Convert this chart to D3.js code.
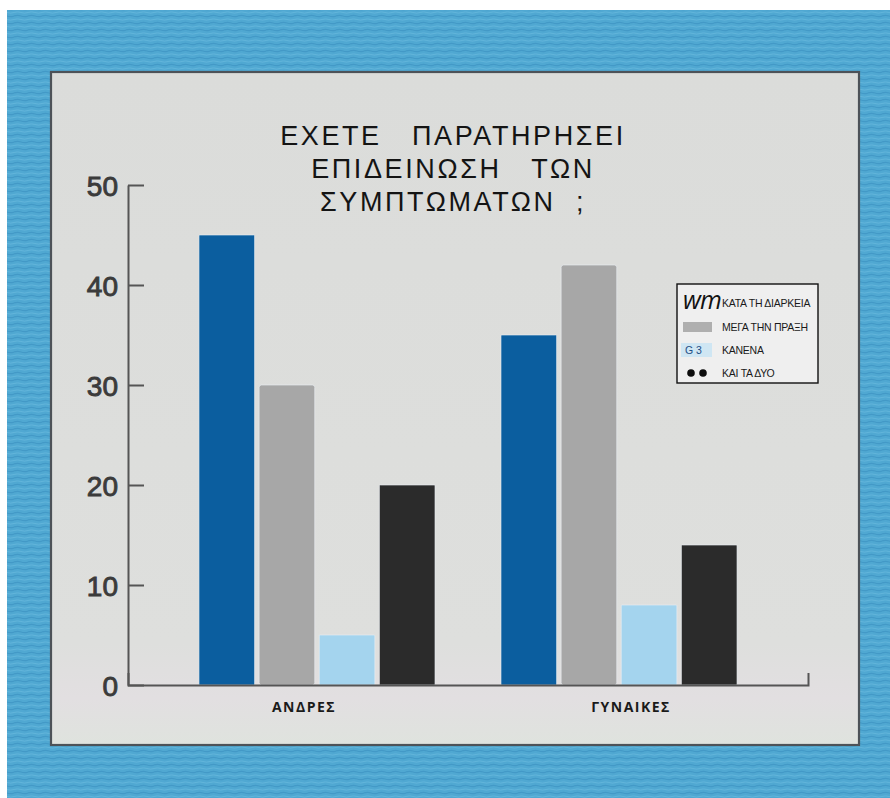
<!DOCTYPE html>
<html>
<head>
<meta charset="utf-8">
<script src="https://cdn.jsdelivr.net/npm/d3@7"></script>
<style>
  html, body { margin: 0; padding: 0; background: #fff; }
  svg { display: block; }
  text { white-space: pre; }
</style>
</head>
<body>
<script>
// Survey answers (percent) by group
const categories = ["ΑΝΔΡΕΣ", "ΓΥΝΑΙΚΕΣ"];
const seriesKeys = ["during", "after", "none", "both"];
const seriesLabels = ["ΚΑΤΑ ΤΗ ΔΙΑΡΚΕΙΑ", "ΜΕΓΑ ΤΗΝ ΠΡΑΞΗ", "ΚΑΝΕΝΑ", "ΚΑΙ ΤΑ ΔΥΟ"];
const duringValues = [45, 35];
const afterValues = [30, 42];
const noneValues = [5, 8];
const bothValues = [20, 14];
const yTicks = [0, 10, 20, 30, 40, 50];
const titleLines = ["ΕΧΕΤΕ   ΠΑΡΑΤΗΡΗΣΕΙ", "ΕΠΙΔΕΙΝΩΣΗ   ΤΩΝ", "ΣΥΜΠΤΩΜΑΤΩΝ  ;"];

const rows = categories.map((c, i) => ({
  category: c,
  during: duringValues[i],
  after: afterValues[i],
  none: noneValues[i],
  both: bothValues[i]
}));

const colors = {
  during: "#0b5e9f",
  after: "#a7a7a7",
  none: "#a4d4ee",
  both: "#2b2b2b"
};

const W = 890, H = 798;
const svg = d3.select("body").append("svg").attr("width", W).attr("height", H);
const defs = svg.append("defs");

// textured blue frame
const pat = defs.append("pattern")
  .attr("id", "weave").attr("patternUnits", "userSpaceOnUse")
  .attr("width", 14).attr("height", 7);
pat.append("rect").attr("width", 14).attr("height", 7).attr("fill", "#50a8d2");
pat.append("path").attr("d", "M0,2 Q3.5,0.8 7,2 T14,2").attr("stroke", "#3d93c2").attr("stroke-width", 1.2).attr("fill", "none").attr("opacity", 0.7);
pat.append("path").attr("d", "M0,5.5 Q3.5,4.3 7,5.5 T14,5.5").attr("stroke", "#6cbde0").attr("stroke-width", 1).attr("fill", "none").attr("opacity", 0.6);

const panelGrad = defs.append("linearGradient").attr("id", "panelGrad")
  .attr("x1", 0).attr("y1", 0).attr("x2", 0).attr("y2", 1);
panelGrad.append("stop").attr("offset", "0%").attr("stop-color", "#dbdcda");
panelGrad.append("stop").attr("offset", "85%").attr("stop-color", "#dedfdd");
panelGrad.append("stop").attr("offset", "93%").attr("stop-color", "#e2dfe1");
panelGrad.append("stop").attr("offset", "100%").attr("stop-color", "#dfe3de");

svg.append("rect").attr("x", 7).attr("y", 10).attr("width", W - 7).attr("height", H - 10).attr("fill", "url(#weave)");

// light panel
svg.append("rect").attr("x", 51).attr("y", 72).attr("width", 808).attr("height", 673)
  .attr("fill", "url(#panelGrad)").attr("stroke", "#4d5258").attr("stroke-width", 2.2);

// scales
const y = d3.scaleLinear().domain([0, 50]).range([685, 185]);
const x0 = d3.scaleBand().domain(categories).range([128, 808])
  .paddingInner(0.2185).paddingOuter(0.235);
const x1 = d3.scaleBand().domain(seriesKeys).range([0, x0.bandwidth()]).paddingInner(0.075);

// title
const title = svg.append("text")
  .attr("x", 453).attr("y", 145)
  .attr("text-anchor", "middle")
  .attr("font-family", "'Liberation Sans', Arial, sans-serif")
  .attr("font-size", 27).attr("letter-spacing", 2.6)
  .attr("fill", "#141414");
titleLines.forEach((t, i) => {
  title.append("tspan").attr("x", 453).attr("dy", i === 0 ? 0 : 33).text(t);
});

// bars
const groups = svg.append("g").selectAll("g").data(rows).join("g")
  .attr("transform", d => `translate(${x0(d.category)},0)`);
groups.selectAll("rect")
  .data(d => seriesKeys.map(k => ({ key: k, value: d[k] })))
  .join("rect")
  .attr("x", d => x1(d.key))
  .attr("y", d => y(d.value))
  .attr("width", x1.bandwidth())
  .attr("height", d => y(0) - y(d.value))
  .attr("rx", d => d.key === "after" ? 2.5 : 0.8)
  .attr("fill", d => colors[d.key])
  .attr("stroke", "#e9eef2").attr("stroke-width", 0.8).attr("stroke-opacity", 0.8);

// y axis with inward ticks
const yAxis = svg.append("g").attr("transform", "translate(128,0)")
  .call(d3.axisLeft(y).tickValues(yTicks).tickSizeInner(-16).tickSizeOuter(0).tickPadding(10));
yAxis.select(".domain").attr("stroke", "#555").attr("stroke-width", 2);
yAxis.selectAll(".tick line").attr("stroke", "#555").attr("stroke-width", 2);
yAxis.selectAll(".tick text")
  .attr("font-family", "'Liberation Sans', Arial, sans-serif")
  .attr("font-size", 28).attr("fill", "#3b3b3b")
  .attr("stroke", "#3b3b3b").attr("stroke-width", 0.9)
  .attr("dy", "0.36em");

// x axis baseline with end tick
const xAxis = svg.append("g").attr("transform", `translate(0,${y(0)})`)
  .call(d3.axisBottom(x0).tickSize(0).tickSizeOuter(-12).tickFormat(""));
xAxis.select(".domain").attr("stroke", "#555").attr("stroke-width", 2);

// category labels
const labelShift = { "ΑΝΔΡΕΣ": -13, "ΓΥΝΑΙΚΕΣ": 12 };
svg.append("g").selectAll("text").data(categories).join("text")
  .attr("x", d => x0(d) + x0.bandwidth() / 2 + labelShift[d])
  .attr("y", 712)
  .attr("text-anchor", "middle")
  .attr("font-family", "'Open Sans', sans-serif")
  .attr("font-weight", "bold").attr("font-size", 14).attr("letter-spacing", 1.5)
  .attr("fill", "#1a1a1a")
  .text(d => d);

// legend
const lg = svg.append("g").attr("transform", "translate(677,284)");
lg.append("rect").attr("width", 141).attr("height", 99)
  .attr("fill", "#efefef").attr("stroke", "#111").attr("stroke-width", 1.4);

const rowY = [19, 43, 66, 89];
const legendFont = "'Liberation Sans', Arial, sans-serif";
lg.selectAll("text.lab").data(seriesLabels).join("text")
  .attr("class", "lab")
  .attr("x", 45).attr("y", (d, i) => rowY[i])
  .attr("dy", "0.35em")
  .attr("font-family", legendFont).attr("font-size", 10.5).attr("letter-spacing", -0.25)
  .attr("fill", "#1a1a1a")
  .text(d => d);

// legend symbols
lg.append("text").attr("x", 6).attr("y", 25)
  .attr("font-family", "'Open Sans', sans-serif").attr("font-style", "italic")
  .attr("font-size", 25).attr("fill", "#111").attr("letter-spacing", -0.8)
  .text("wm");
lg.append("rect").attr("x", 6).attr("y", rowY[1] - 5).attr("width", 29).attr("height", 10)
  .attr("fill", colors.after).attr("opacity", 0.9);
lg.append("rect").attr("x", 4).attr("y", rowY[2] - 7).attr("width", 31).attr("height", 14)
  .attr("fill", "#cfe6f3");
lg.append("text").attr("x", 8).attr("y", rowY[2]).attr("dy", "0.35em")
  .attr("font-family", legendFont).attr("font-size", 10.5)
  .attr("fill", "#1f4f86").text("G 3");
[14, 26].forEach(cx => {
  lg.append("circle").attr("cx", cx).attr("cy", rowY[3]).attr("r", 3.8).attr("fill", "#0d0d0d");
});
</script>
</body>
</html>
